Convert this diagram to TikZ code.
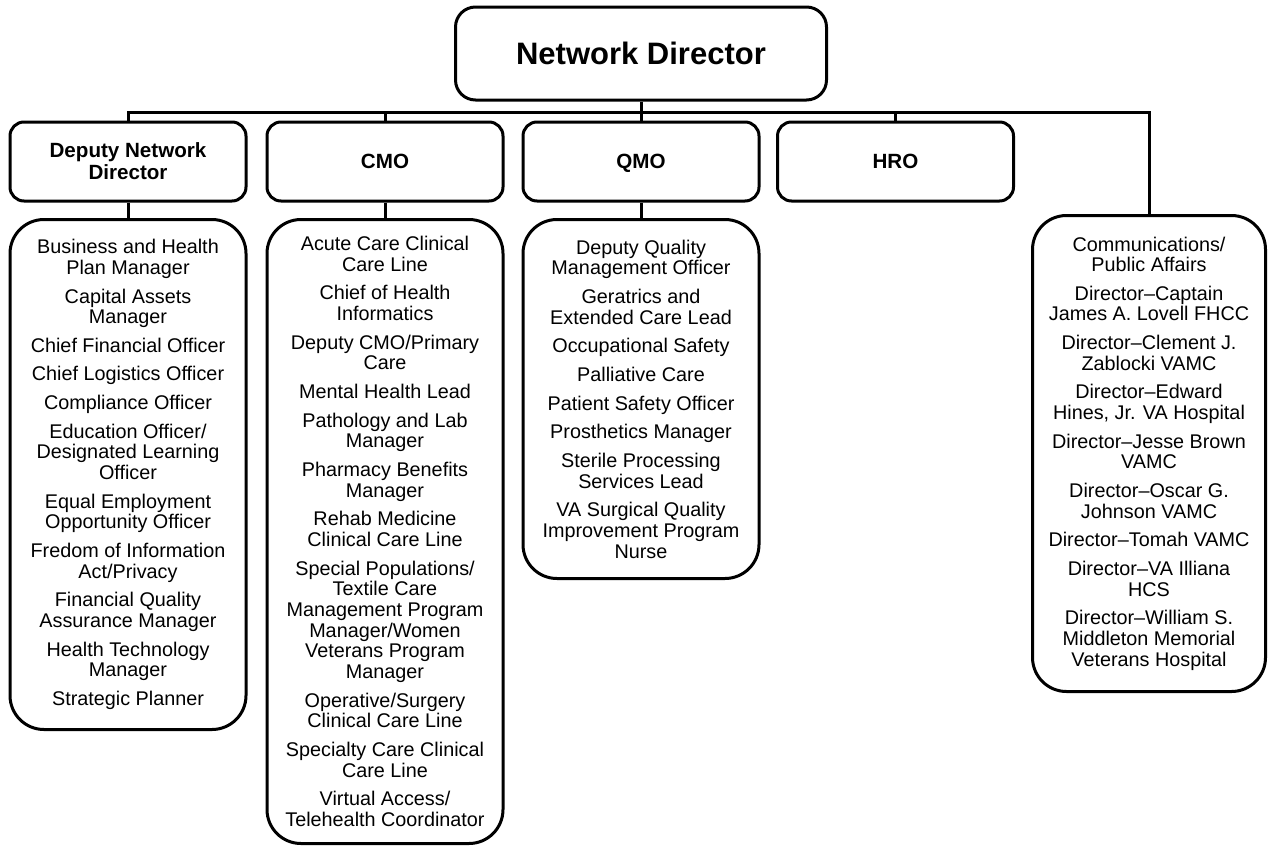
\documentclass[tikz,border=0pt]{standalone}
\usepackage{fontspec}
\setmainfont{Liberation Sans}
\usepackage{tikz}
\usetikzlibrary{positioning}

\begin{document}
\begin{tikzpicture}[x=0.5pt,y=-0.5pt,line width=1.5pt,
    topbox/.style={draw,rounded corners=10pt,minimum width=185.5pt,minimum height=46.5pt,
      font=\bfseries\fontsize{15.5}{18}\selectfont},
    headbox/.style={draw,rounded corners=7pt,minimum width=118pt,minimum height=39.5pt,
      align=center,font=\bfseries\fontsize{10.3}{11}\selectfont},
    oneline/.style={text height=7.4pt,text depth=0pt},
    listbox/.style={draw,rounded corners=17pt,minimum width=118pt,anchor=north,
      align=center,inner sep=2pt,font=\fontsize{9.9}{10.33}\selectfont}]
  \useasboundingbox (0,0) rectangle (1268,846);

  % top of the chart
  \node[topbox](nd) at (641,53.5){Network Director};

  % second row
  \node[headbox](dnd) at (128,161.5){Deputy Network\\Director};
  \node[headbox,oneline](cmo) at (385,161.5){CMO};
  \node[headbox,oneline](qmo) at (641,161.5){QMO};
  \node[headbox,oneline](hro) at (895.5,161.5){HRO};

  % staff lists
  \node[listbox,minimum height=255pt](dndlist) at (128,218){Business and Health\\Plan Manager\\[4pt]
    Capital Assets\\Manager\\[4pt]
    Chief Financial Officer\\[4pt]
    Chief Logistics Officer\\[4pt]
    Compliance Officer\\[4pt]
    Education Officer/\\Designated Learning\\Officer\\[4pt]
    Equal Employment\\Opportunity Officer\\[4pt]
    Fredom of Information\\Act/Privacy\\[4pt]
    Financial Quality\\Assurance Manager\\[4pt]
    Health Technology\\Manager\\[4pt]
    Strategic Planner};
  \node[listbox,minimum height=312pt](cmolist) at (385,218){Acute Care Clinical\\Care Line\\[4pt]
    Chief of Health\\Informatics\\[4pt]
    Deputy CMO/Primary\\Care\\[4pt]
    Mental Health Lead\\[4pt]
    Pathology and Lab\\Manager\\[4pt]
    Pharmacy Benefits\\Manager\\[4pt]
    Rehab Medicine\\Clinical Care Line\\[4pt]
    Special Populations/\\Textile Care\\Management Program\\Manager/Women\\Veterans Program\\Manager\\[4pt]
    Operative/Surgery\\Clinical Care Line\\[4pt]
    Specialty Care Clinical\\Care Line\\[4pt]
    Virtual Access/\\Telehealth Coordinator};
  \node[listbox,minimum height=179.5pt](qmolist) at (641,218){Deputy Quality\\Management Officer\\[4pt]
    Geratrics and\\Extended Care Lead\\[4pt]
    Occupational Safety\\[4pt]
    Palliative Care\\[4pt]
    Patient Safety Officer\\[4pt]
    Prosthetics Manager\\[4pt]
    Sterile Processing\\Services Lead\\[4pt]
    VA Surgical Quality\\Improvement Program\\Nurse};
  \node[listbox,minimum width=116.5pt,minimum height=238pt](vamc) at (1149,214){Communications/\\Public Affairs\\[4pt]
    Director–Captain\\James A. Lovell FHCC\\[4pt]
    Director–Clement J.\\Zablocki VAMC\\[4pt]
    Director–Edward\\Hines, Jr. VA Hospital\\[4pt]
    Director–Jesse Brown\\VAMC\\[4pt]
    Director–Oscar G.\\Johnson VAMC\\[4pt]
    Director–Tomah VAMC\\[4pt]
    Director–VA Illiana\\HCS\\[4pt]
    Director–William S.\\Middleton Memorial\\Veterans Hospital};

  % connectors
  \coordinate (bus) at (1149,112);
  \draw (dnd.north) |- (bus) -- (vamc.north);
  \draw (nd.south) -- (qmo.north);
  \foreach \n in {cmo,hro}
    \draw (\n.north) -- (\n.north |- bus);
  \foreach \n in {dnd,cmo,qmo}
    \draw (\n.south) -- (\n list.north);
\end{tikzpicture}
\end{document}
